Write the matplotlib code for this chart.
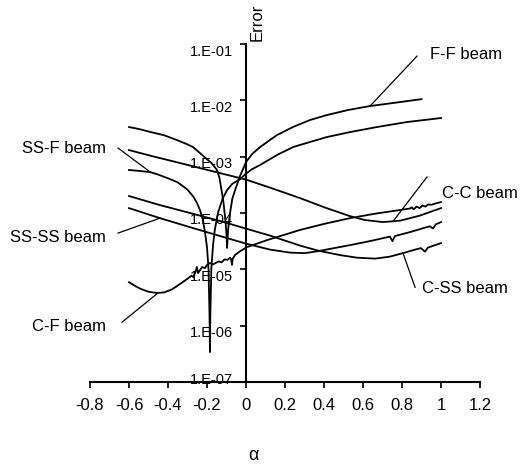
import matplotlib
matplotlib.use("Agg")
import matplotlib.pyplot as plt
from matplotlib.ticker import NullLocator
from matplotlib.transforms import ScaledTranslation

plt.rcParams['font.family'] = ['Liberation Sans', 'DejaVu Sans']

# ---- axis ticks ----
x_ticks = [-0.8, -0.6, -0.4, -0.2, 0.0, 0.2, 0.4, 0.6, 0.8, 1.0, 1.2]
x_labels = ['-0.8', '-0.6', '-0.4', '-0.2', '0', '0.2', '0.4', '0.6', '0.8', '1', '1.2']
y_ticks = [1e-7, 1e-6, 1e-5, 1e-4, 1e-3, 1e-2, 1e-1]
y_labels = ['1.E-07', '1.E-06', '1.E-05', '1.E-04', '1.E-03', '1.E-02', '1.E-01']

# ---- error curves versus alpha ----
ff_alpha = [-0.6, -0.55, -0.49, -0.42, -0.354, -0.3, -0.272, -0.236, -0.2, -0.175, -0.149,
            -0.136, -0.123, -0.115, -0.105, -0.1, -0.097, -0.092, -0.082, -0.07, -0.056,
            -0.03, 0.0, 0.031, 0.072, 0.159, 0.241, 0.328, 0.415, 0.523, 0.636, 0.754, 0.9]
ff_err = [3.36e-3, 3.1e-3, 2.74e-3, 2.4e-3, 1.97e-3, 1.65e-3, 1.48e-3, 1.16e-3, 9.0e-4, 7.6e-4,
          5.8e-4, 4.2e-4, 2.25e-4, 1.5e-4, 7.0e-5, 4.2e-5, 2.4e-5, 5.0e-5, 1.0e-4, 1.8e-4, 2.55e-4,
          4.6e-4, 8.0e-4, 1.11e-3, 1.48e-3, 2.42e-3, 3.36e-3, 4.47e-3, 5.48e-3, 6.73e-3, 7.92e-3,
          8.96e-3, 1.05e-2]

ssf_alpha = [-0.6, -0.55, -0.49, -0.45, -0.39, -0.35, -0.3, -0.27, -0.251, -0.235, -0.221,
             -0.21, -0.2, -0.192, -0.187, -0.185, -0.183, -0.178, -0.169, -0.16, -0.144,
             -0.12, -0.097, -0.07, -0.03, 0.0, 0.031, 0.072, 0.159, 0.241, 0.328, 0.415,
             0.533, 0.672, 0.826, 1.0]
ssf_err = [5.8e-4, 5.6e-4, 5.3e-4, 4.8e-4, 4.0e-4, 3.5e-4, 2.6e-4, 1.95e-4, 1.5e-4, 1.1e-4, 7.5e-5,
           4.5e-5, 2.48e-5, 1.0e-5, 1.5e-6, 3.4e-7, 1.5e-6, 1.0e-5, 2.7e-5, 5.0e-5, 1.0e-4,
           1.8e-4, 2.55e-4, 3.3e-4, 4.0e-4, 5.0e-4, 6.0e-4, 7.1e-4, 1.07e-3, 1.48e-3, 1.82e-3,
           2.23e-3, 2.73e-3, 3.36e-3, 4.12e-3, 4.85e-3]

cc_alpha = [-0.6, -0.49, -0.338, -0.185, 0.0, 0.123, 0.277, 0.405, 0.533, 0.61, 0.703,
            0.79, 0.892, 1.0]
cc_err = [1.31e-3, 1.04e-3, 7.7e-4, 5.66e-4, 3.92e-4, 2.82e-4, 1.84e-4, 1.25e-4, 8.8e-5, 7.5e-5,
          6.9e-5, 7.3e-5, 9.0e-5, 1.22e-4]

css_alpha = [-0.6, -0.441, -0.287, -0.133, 0.0, 0.123, 0.277, 0.369, 0.482, 0.569, 0.662,
             0.738, 0.805, 0.867, 0.897, 0.918, 0.933, 1.0]
css_err = [2.0e-4, 1.38e-4, 1.0e-4, 7.2e-5, 5.28e-5, 3.97e-5, 2.64e-5, 2.15e-5, 1.79e-5, 1.61e-5,
           1.55e-5, 1.68e-5, 1.94e-5, 2.24e-5, 2.38e-5, 2.06e-5, 2.43e-5, 2.92e-5]

ssss_alpha = [-0.6, -0.441, -0.287, -0.133, 0.0, 0.123, 0.226, 0.303, 0.369, 0.533, 0.636,
              0.738, 0.751, 0.764, 0.841, 0.918, 0.944, 0.959, 0.974, 1.0]
ssss_err = [1.22e-4, 8.1e-5, 5.6e-5, 3.9e-5, 2.86e-5, 2.24e-5, 1.98e-5, 1.94e-5, 2.1e-5, 2.69e-5,
            3.17e-5, 3.81e-5, 3.17e-5, 3.9e-5, 4.58e-5, 5.5e-5, 5.8e-5, 5.3e-5, 6.3e-5, 6.9e-5]

cf_alpha = [-0.6, -0.57, -0.54, -0.5, -0.456, -0.42, -0.38, -0.338, -0.3, -0.28, -0.27, -0.26,
            -0.252, -0.246, -0.235, -0.225, -0.21, -0.2, -0.185, -0.17, -0.155, -0.14, -0.125,
            -0.11, -0.095, -0.082, -0.076, -0.072, -0.068, -0.056, -0.03, 0.005, 0.108, 0.277,
            0.4, 0.533, 0.66, 0.79, 0.84, 0.85, 0.86, 0.875, 0.89, 0.905, 0.92, 0.935, 0.95,
            0.97, 1.0]
cf_err = [5.9e-6, 5.1e-6, 4.5e-6, 4.0e-6, 3.8e-6, 3.9e-6, 4.4e-6, 5.5e-6, 6.8e-6, 7.7e-6, 7.3e-6,
          8.8e-6, 1.1e-5, 8.6e-6, 9.8e-6, 1.1e-5, 1.05e-5, 1.2e-5, 1.3e-5, 1.22e-5, 1.3e-5, 1.38e-5,
          1.33e-5, 1.5e-5, 1.48e-5, 1.6e-5, 1.5e-5, 1.2e-5, 1.55e-5, 1.8e-5, 2.1e-5, 2.48e-5,
          3.3e-5, 5.0e-5, 6.4e-5, 8.1e-5, 9.7e-5, 1.13e-4, 1.2e-4, 1.26e-4, 1.16e-4, 1.3e-4,
          1.22e-4, 1.36e-4, 1.3e-4, 1.42e-4, 1.4e-4, 1.47e-4, 1.56e-4]

# ---- curve labels: (text, text position, leader start, leader end, alignment) ----
labels = [
    ('F-F beam', (0.944, 6.4e-2), (0.877, 6.1e-2), (0.636, 7.9e-3), 'left'),
    ('C-C beam', (1.005, 2.25e-4), (0.928, 4.35e-4), (0.754, 7.1e-5), 'left'),
    ('C-SS beam', (0.903, 4.6e-6), (0.867, 4.8e-6), (0.805, 1.94e-5), 'left'),
    ('SS-F beam', (-0.718, 1.42e-3), (-0.656, 1.42e-3), (-0.49, 5.3e-4), 'right'),
    ('SS-SS beam', (-0.718, 3.73e-5), (-0.656, 4.4e-5), (-0.441, 8.1e-5), 'right'),
    ('C-F beam', (-0.718, 9.8e-7), (-0.636, 1.15e-6), (-0.456, 3.7e-6), 'right'),
]

fig = plt.figure(figsize=(5.21, 4.67), dpi=100)
ax = fig.add_axes([90 / 521, 1 - 382 / 467, 390 / 521, 338 / 467])
ax.set_yscale('log')
ax.set_xlim(-0.8, 1.2)
ax.set_ylim(1e-7, 1e-1)

for a, e in [(ff_alpha, ff_err), (ssf_alpha, ssf_err), (cc_alpha, cc_err),
             (css_alpha, css_err), (ssss_alpha, ssss_err), (cf_alpha, cf_err)]:
    ax.plot(a, e, color='black', lw=1.3, solid_joinstyle='round')

for text, tpos, p0, p1, ha in labels:
    ax.plot([p0[0], p1[0]], [p0[1], p1[1]], color='black', lw=0.9, clip_on=False)
    ax.text(tpos[0], tpos[1], text, ha=ha, va='center', fontsize=12, clip_on=False)

# axes styling: vertical axis crossing at alpha = 0
ax.spines['left'].set_position(('data', 0.0))
ax.spines['top'].set_visible(False)
ax.spines['right'].set_visible(False)
ax.spines['left'].set_linewidth(1.5)
ax.spines['bottom'].set_linewidth(1.5)

ax.set_xticks(x_ticks)
ax.set_xticklabels(x_labels)
ax.set_yticks(y_ticks)
ax.set_yticklabels(y_labels)
ax.yaxis.set_minor_locator(NullLocator())
ax.tick_params(axis='x', direction='out', length=4.5, width=1.2, labelsize=12, pad=7)
ax.tick_params(axis='y', direction='out', length=4.5, width=1.2, labelsize=10.5, pad=5)

for lab, v in zip(ax.get_yticklabels(), y_ticks):
    dy = 4 if v == 1e-7 else -6
    lab.set_transform(lab.get_transform() + ScaledTranslation(0, dy / 100, fig.dpi_scale_trans))

fig.text(257 / 521, 1 - 22 / 467, 'Error', rotation=90, ha='center', va='center', fontsize=12)
fig.text(253 / 521, 1 - 456 / 467, 'α', ha='center', va='center', fontsize=13)

fig.savefig('out.png', dpi=100)
